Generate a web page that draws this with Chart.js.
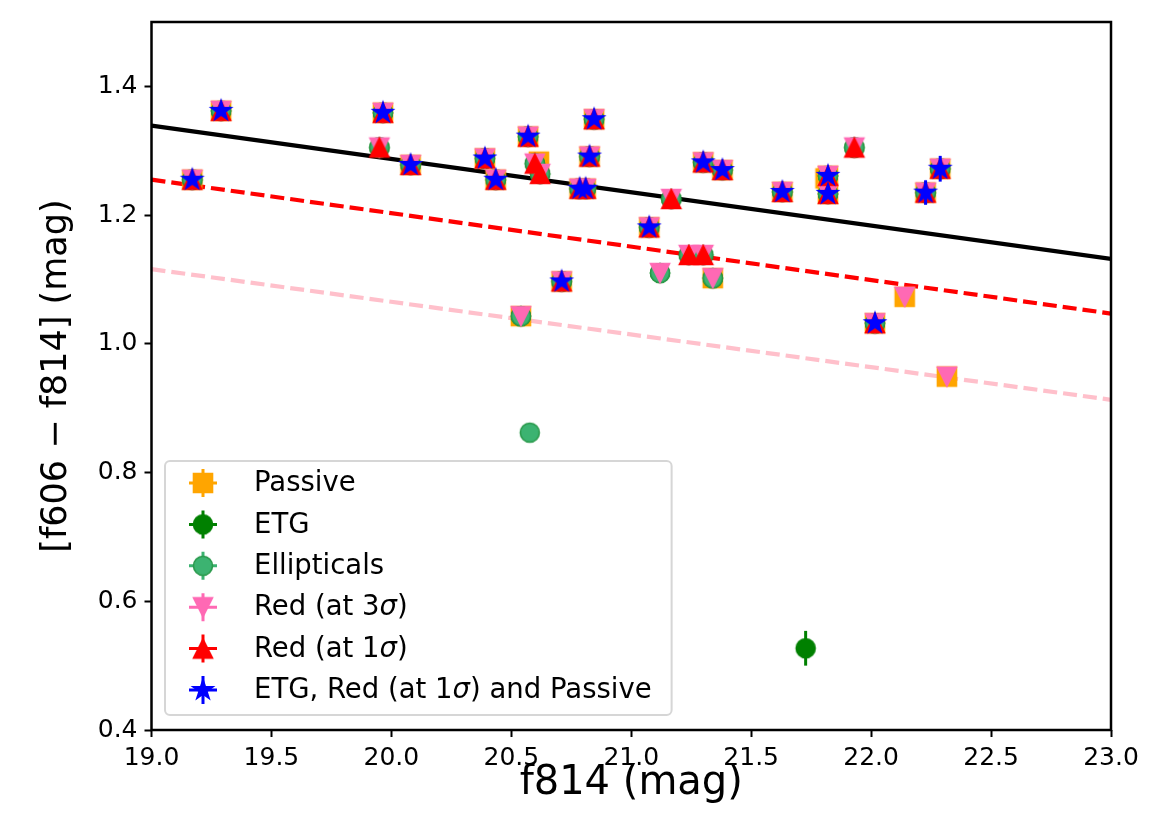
<!DOCTYPE html>
<html>
<head>
<meta charset="utf-8">
<script src="https://cdn.jsdelivr.net/npm/chart.js@4.4.1/dist/chart.umd.min.js"></script>
<style>
    html, body { margin: 0; padding: 0; background: #fff; }
    #wrap { width: 1149px; height: 836px; }
</style>
</head>
<body>
<div id="wrap"><canvas id="cmdChart" width="1149" height="836"></canvas></div>
<script>
// Dữ liệu: trục
const xTicks = [19.0, 19.5, 20.0, 20.5, 21.0, 21.5, 22.0, 22.5, 23.0]
const yTicks = [0.4, 0.6, 0.8, 1.0, 1.2, 1.4]
const seriesNames = ['Passive', 'ETG', 'Ellipticals', 'Red (at 3σ)', 'Red (at 1σ)', 'ETG, Red (at 1σ) and Passive']

// Passive
const passiveX = [19.17, 19.29, 19.965, 20.08, 20.39, 20.435, 20.54, 20.57, 20.615, 20.71, 20.785, 20.81, 20.826, 20.845, 21.075, 21.30, 21.34, 21.38, 21.63, 21.81, 21.82, 21.82, 22.016, 22.14, 22.227, 22.288, 22.316]
const passiveY = [1.255, 1.362, 1.359, 1.278, 1.288, 1.255, 1.043, 1.322, 1.283, 1.097, 1.241, 1.241, 1.291, 1.349, 1.181, 1.282, 1.102, 1.270, 1.236, 1.257, 1.261, 1.233, 1.032, 1.073, 1.235, 1.272, 0.949]

// ETG
const etgX = [19.17, 19.29, 19.95, 19.965, 20.08, 20.39, 20.435, 20.54, 20.57, 20.598, 20.62, 20.71, 20.785, 20.81, 20.826, 20.845, 21.075, 21.12, 21.167, 21.24, 21.30, 21.30, 21.34, 21.38, 21.63, 21.727, 21.82, 21.82, 21.93, 22.016, 22.227, 22.288]
const etgY = [1.255, 1.362, 1.305, 1.359, 1.278, 1.288, 1.255, 1.043, 1.322, 1.280, 1.264, 1.097, 1.241, 1.241, 1.291, 1.349, 1.181, 1.110, 1.225, 1.138, 1.138, 1.282, 1.102, 1.270, 1.236, 0.527, 1.261, 1.233, 1.305, 1.032, 1.235, 1.272]
const etgErr = [0.005, 0.005, 0.005, 0.005, 0.005, 0.005, 0.005, 0.005, 0.005, 0.005, 0.005, 0.005, 0.005, 0.005, 0.005, 0.005, 0.005, 0.005, 0.005, 0.005, 0.005, 0.005, 0.005, 0.005, 0.005, 0.027, 0.005, 0.005, 0.005, 0.005, 0.005, 0.005]

// Ellipticals
const ellX = [19.17, 19.29, 19.95, 19.965, 20.08, 20.39, 20.435, 20.54, 20.57, 20.577, 20.598, 20.62, 20.71, 20.785, 20.81, 20.826, 20.845, 21.075, 21.12, 21.167, 21.24, 21.30, 21.30, 21.34, 21.38, 21.63, 21.82, 21.82, 21.93, 22.016, 22.227, 22.288]
const ellY = [1.255, 1.362, 1.305, 1.359, 1.278, 1.288, 1.255, 1.043, 1.322, 0.862, 1.280, 1.264, 1.097, 1.241, 1.241, 1.291, 1.349, 1.181, 1.110, 1.225, 1.138, 1.138, 1.282, 1.102, 1.270, 1.236, 1.261, 1.233, 1.305, 1.032, 1.235, 1.272]

// Red (at 3σ)
const red3X = [19.17, 19.29, 19.95, 19.965, 20.08, 20.39, 20.435, 20.54, 20.57, 20.598, 20.62, 20.71, 20.785, 20.81, 20.826, 20.845, 21.075, 21.12, 21.167, 21.24, 21.30, 21.30, 21.34, 21.38, 21.63, 21.82, 21.82, 21.93, 22.016, 22.14, 22.227, 22.288, 22.316]
const red3Y = [1.255, 1.362, 1.305, 1.359, 1.278, 1.288, 1.255, 1.043, 1.322, 1.280, 1.264, 1.097, 1.241, 1.241, 1.291, 1.349, 1.181, 1.110, 1.225, 1.138, 1.138, 1.282, 1.102, 1.270, 1.236, 1.261, 1.233, 1.305, 1.032, 1.073, 1.235, 1.272, 0.949]

// Red (at 1σ)
const red1X = [19.17, 19.29, 19.95, 19.965, 20.08, 20.39, 20.435, 20.57, 20.598, 20.62, 20.71, 20.785, 20.81, 20.826, 20.845, 21.075, 21.167, 21.24, 21.30, 21.30, 21.38, 21.63, 21.82, 21.82, 21.93, 22.016, 22.227, 22.288]
const red1Y = [1.255, 1.362, 1.305, 1.359, 1.278, 1.288, 1.255, 1.322, 1.280, 1.264, 1.097, 1.241, 1.241, 1.291, 1.349, 1.181, 1.225, 1.138, 1.138, 1.282, 1.270, 1.236, 1.261, 1.233, 1.305, 1.032, 1.235, 1.272]

// ETG, Red (at 1σ) and Passive
const bothX = [19.17, 19.29, 19.965, 20.08, 20.39, 20.435, 20.57, 20.71, 20.785, 20.81, 20.826, 20.845, 21.075, 21.30, 21.38, 21.63, 21.82, 21.82, 22.016, 22.227, 22.288]
const bothY = [1.255, 1.362, 1.359, 1.278, 1.288, 1.255, 1.322, 1.097, 1.241, 1.241, 1.291, 1.349, 1.181, 1.282, 1.270, 1.236, 1.261, 1.233, 1.032, 1.235, 1.272]
const bothErr = [0.005, 0.005, 0.005, 0.005, 0.005, 0.005, 0.005, 0.005, 0.005, 0.005, 0.005, 0.005, 0.005, 0.005, 0.005, 0.005, 0.005, 0.005, 0.005, 0.019, 0.020]

// Đường khớp (red sequence, 1σ, 3σ)
const fitX = [19, 23]
const fitY = [1.339, 1.132]
const sigma1Y = [1.255, 1.047]
const sigma3Y = [1.116, 0.913]


const FONT = 'DejaVu Sans'
const LEGEND_SIZE = 27.5
const TICK_SIZE = 25
const pts = (xs, ys) => xs.map((x, i) => ({ x: x, y: ys[i] }))

// Tạo ký hiệu điểm giống matplotlib
function makeMarker(shape, fill, edge) {
    const c = document.createElement('canvas')
    c.width = 30
    c.height = 30
    const ctx = c.getContext('2d')
    ctx.translate(15, 15)
    ctx.fillStyle = fill
    ctx.strokeStyle = edge
    ctx.lineWidth = 1.6
    ctx.beginPath()
    if (shape === 'square') {
        ctx.rect(-9.5, -9.5, 19, 19)
    } else if (shape === 'circle') {
        ctx.arc(0, 0, 9.5, 0, Math.PI * 2)
    } else if (shape === 'up') {
        ctx.moveTo(0, -9.5)
        ctx.lineTo(9.5, 9.5)
        ctx.lineTo(-9.5, 9.5)
        ctx.closePath()
    } else if (shape === 'down') {
        ctx.moveTo(0, 9.5)
        ctx.lineTo(9.5, -9.5)
        ctx.lineTo(-9.5, -9.5)
        ctx.closePath()
    } else if (shape === 'star') {
        for (let i = 0; i < 10; i++) {
            const a = -Math.PI / 2 + i * Math.PI / 5
            const r = i % 2 ? 10.5 * 0.382 : 10.5
            i === 0 ? ctx.moveTo(r * Math.cos(a), r * Math.sin(a)) : ctx.lineTo(r * Math.cos(a), r * Math.sin(a))
        }
        ctx.closePath()
    }
    ctx.fill()
    ctx.stroke()
    return c
}

const markers = [
    makeMarker('square', '#FFA500', '#FFA500'),
    makeMarker('circle', '#008000', '#008000'),
    makeMarker('circle', '#3CB371', '#2a9a4c'),
    makeMarker('down', '#FF69B4', '#FF69B4'),
    makeMarker('up', '#FF0000', '#FF0000'),
    makeMarker('star', '#0000FF', '#0000FF')
]
const markerColors = ['#FFA500', '#008000', '#3CB371', '#FF69B4', '#FF0000', '#0000FF']

function markerSet(i, data, err) {
    return {
        label: seriesNames[i],
        data: data,
        showLine: false,
        pointStyle: markers[i],
        pointRadius: 10,
        order: 5 - i,
        yErr: err,
        errColor: markerColors[i]
    }
}

function fitLine(ys, color, dash) {
    return {
        type: 'line',
        data: pts(fitX, ys),
        showLine: true,
        borderColor: color,
        borderWidth: 4.2,
        borderDash: dash,
        pointRadius: 0,
        fill: false,
        order: 10
    }
}

// Thanh sai số (vẽ ngay trước ký hiệu của cùng dataset)
const errorBars = {
    id: 'errorBars',
    beforeDatasetDraw(chart, args) {
        const ds = chart.data.datasets[args.index]
        if (!ds.yErr) return
        const ctx = chart.ctx
        const ys = chart.scales.y
        ctx.save()
        ctx.strokeStyle = ds.errColor
        ctx.lineWidth = 3
        args.meta.data.forEach((p, i) => {
            const v = ds.data[i]
            ctx.beginPath()
            ctx.moveTo(p.x, ys.getPixelForValue(v.y - ds.yErr[i]))
            ctx.lineTo(p.x, ys.getPixelForValue(v.y + ds.yErr[i]))
            ctx.stroke()
        })
        ctx.restore()
    }
}

// Khung + chú thích
function drawLabel(ctx, text, x, y) {
    const parts = text.split('σ')
    let cx = x
    parts.forEach((part, i) => {
        ctx.font = LEGEND_SIZE + 'px "' + FONT + '"'
        ctx.fillText(part, cx, y)
        cx += ctx.measureText(part).width
        if (i < parts.length - 1) {
            ctx.font = 'italic ' + LEGEND_SIZE + 'px "' + FONT + '"'
            ctx.fillText('σ', cx, y)
            cx += ctx.measureText('σ').width
        }
    })
    return cx - x
}

const frameAndLegend = {
    id: 'frameAndLegend',
    afterDraw(chart) {
        const ctx = chart.ctx
        const a = chart.chartArea
        ctx.save()
        ctx.strokeStyle = '#000'
        ctx.lineWidth = 2.5
        ctx.strokeRect(a.left, a.top, a.right - a.left, a.bottom - a.top)

        // chú thích
        ctx.font = LEGEND_SIZE + 'px "' + FONT + '"'
        let maxW = 0
        seriesNames.forEach(t => { maxW = Math.max(maxW, ctx.measureText(t).width) })
        const left = a.left + 13.5
        const bottom = a.bottom - 15
        const top = bottom - 254
        const w = 89 + maxW + 20
        ctx.beginPath()
        ctx.roundRect(left, top, w, bottom - top, 5)
        ctx.fillStyle = 'rgba(255,255,255,0.8)'
        ctx.fill()
        ctx.strokeStyle = '#d6d6d6'
        ctx.lineWidth = 2
        ctx.stroke()

        seriesNames.forEach((name, i) => {
            const y = top + 22 + i * 41.4
            const mx = left + 38
            ctx.strokeStyle = markerColors[i]
            ctx.lineWidth = 3
            ctx.beginPath()
            ctx.moveTo(mx, y - 14)
            ctx.lineTo(mx, y + 14)
            ctx.moveTo(mx - 14, y)
            ctx.lineTo(mx + 14, y)
            ctx.stroke()
            ctx.drawImage(markers[i], mx - 15, y - 15)
            ctx.fillStyle = '#000'
            ctx.textBaseline = 'middle'
            drawLabel(ctx, name, left + 89, y + 1)
        })
        ctx.restore()
    }
}

const axisGrid = { drawOnChartArea: false, drawTicks: true, tickLength: 7, tickWidth: 2, tickColor: '#000', color: '#000' }

new Chart(document.getElementById('cmdChart'), {
    type: 'scatter',
    data: {
        datasets: [
            markerSet(0, pts(passiveX, passiveY)),
            markerSet(1, pts(etgX, etgY), etgErr),
            markerSet(2, pts(ellX, ellY)),
            markerSet(3, pts(red3X, red3Y)),
            markerSet(4, pts(red1X, red1Y)),
            markerSet(5, pts(bothX, bothY), bothErr),
            fitLine(fitY, '#000000', []),
            fitLine(sigma1Y, '#FF0000', [14, 6]),
            fitLine(sigma3Y, '#FFC0CB', [14, 6])
        ]
    },
    options: {
        responsive: false,
        devicePixelRatio: 1,
        animation: false,
        events: [],
        layout: { padding: { top: 19, right: 38, left: 0, bottom: 0 } },
        plugins: { legend: { display: false }, tooltip: { enabled: false } },
        scales: {
            x: {
                type: 'linear',
                min: 19,
                max: 23,
                afterBuildTicks: s => { s.ticks = xTicks.map(v => ({ value: v })) },
                afterFit: s => { s.height = 106 },
                ticks: { color: '#000', font: { family: FONT, size: TICK_SIZE }, padding: 6, maxRotation: 0, autoSkip: false, callback: v => v.toFixed(1) },
                grid: axisGrid,
                border: { display: false },
                title: { display: true, text: 'f814 (mag)', color: '#000', font: { family: FONT, size: 40 }, padding: { top: 0, bottom: 28 } }
            },
            y: {
                type: 'linear',
                min: 0.4,
                max: 1.5,
                afterBuildTicks: s => { s.ticks = yTicks.map(v => ({ value: v })) },
                afterFit: s => { s.width = 151.5 },
                ticks: { color: '#000', font: { family: FONT, size: TICK_SIZE }, padding: 7, callback: v => v.toFixed(1) },
                grid: axisGrid,
                border: { display: false },
                title: { display: true, text: '[f606 − f814] (mag)', color: '#000', font: { family: FONT, size: 35 }, padding: { top: 36, bottom: 0 } }
            }
        }
    },
    plugins: [errorBars, frameAndLegend]
})
</script>
</body>
</html>
